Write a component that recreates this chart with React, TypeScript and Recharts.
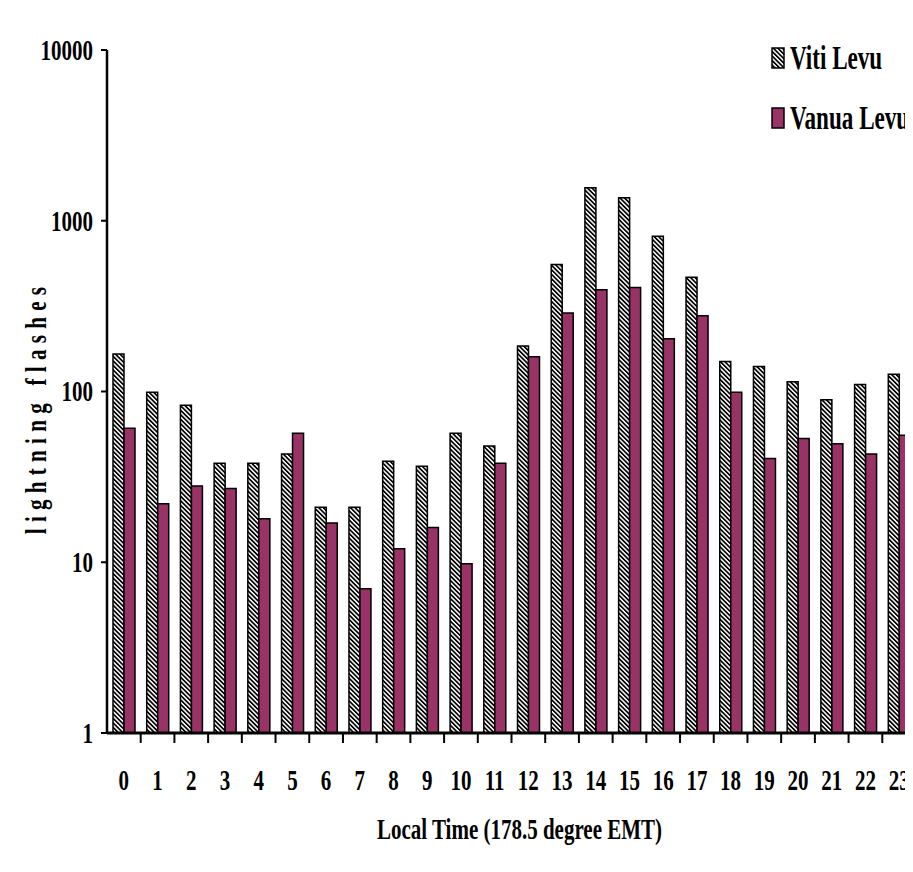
import { BarChart, Bar, XAxis, YAxis, Legend } from 'recharts';

// hourly lightning flash counts (log scale)
const hours = ['0', '1', '2', '3', '4', '5', '6', '7', '8', '9', '10', '11', '12', '13', '14', '15', '16', '17', '18', '19', '20', '21', '22', '23'];
const vitiLevu = [166, 99, 83, 38, 38, 43, 21, 21, 39, 36.5, 57, 48, 185, 554, 1560, 1364, 811, 467, 150, 140, 114, 89.5, 110, 126];
const vanuaLevu = [61, 22, 28, 27, 18, 57, 17, 7, 12, 16, 9.8, 38, 160, 288, 394, 407, 204, 278, 99, 40.5, 53, 49.5, 43, 55.5];
const yTicks = [1, 10, 100, 1000, 10000];
const seriesOrder = ['viti', 'vanua'];

const data = hours.map((h, i) => ({ hour: h, viti: vitiLevu[i], vanua: vanuaLevu[i] }));

const FONT = '"Liberation Serif", "Times New Roman", serif';
const SX = 0.7;
const PLUM = '#993366';

// the original plot runs slightly past the right edge, so the chart is clipped
const VIEW_W = 905;
const CHART_W = 908;
const CHART_H = 850;
const Y_AXIS_W = 99;
const BAND = (CHART_W - Y_AXIS_W) / hours.length;

const HatchPattern = ({ id }: { id: string }) => (
  <pattern id={id} patternUnits="userSpaceOnUse" width={3.2} height={3.2} patternTransform="rotate(-45)">
    <rect width={3.2} height={3.2} fill="#fff" />
    <rect width={1.7} height={3.2} fill="#000" />
  </pattern>
);

const CondText = ({ x, y, size, anchor = 'middle', rotate = 0, weight = 'bold', spacing = 0, children }: any) => (
  <text
    transform={`translate(${x},${y}) rotate(${rotate}) scale(${SX},1)`}
    textAnchor={anchor}
    dominantBaseline="central"
    fontFamily={FONT}
    fontWeight={weight}
    fontSize={size}
    letterSpacing={spacing}
    fill="#000"
  >
    {children}
  </text>
);

// label plus a downward tick on the right edge of each category band
const XTick = (props: any) => {
  const { x, y, payload } = props;
  const bx = x + BAND / 2;
  return (
    <g>
      <line x1={bx} x2={bx} y1={y} y2={y + 10} stroke="#000" strokeWidth={2} />
      <CondText x={x} y={y + 47} size={30}>
        {payload.value}
      </CondText>
    </g>
  );
};

const YTick = (props: any) => {
  const { x, y, payload } = props;
  return (
    <CondText x={x} y={y} size={30} anchor="end">
      {payload.value}
    </CondText>
  );
};

const XTitle = (props: any) => {
  const { x, y, width } = props.viewBox;
  return (
    <CondText x={x + width / 2 + 8} y={y + 96} size={30}>
      Local Time (178.5 degree EMT)
    </CondText>
  );
};

const YTitle = (props: any) => {
  const { x, y, height } = props.viewBox;
  return (
    <CondText x={x + 28} y={y + height / 2 + 16} size={30} rotate={-90} spacing={9}>
      lightning flashes
    </CondText>
  );
};

const renderLegend = (props: any) => {
  const items = [...props.payload].sort(
    (a: any, b: any) => seriesOrder.indexOf(a.dataKey) - seriesOrder.indexOf(b.dataKey)
  );
  return (
    <div style={{ fontFamily: FONT, fontWeight: 'bold' }}>
      {items.map((entry: any) => (
        <div key={entry.value} style={{ display: 'flex', alignItems: 'center', height: 60 }}>
          <svg width={14} height={22} style={{ flex: 'none' }}>
            <defs>
              <HatchPattern id="legHatch" />
            </defs>
            <rect
              x={1}
              y={1}
              width={12}
              height={20}
              fill={entry.dataKey === 'viti' ? 'url(#legHatch)' : PLUM}
              stroke="#000"
              strokeWidth={1.5}
            />
          </svg>
          <span
            style={{
              fontSize: 33,
              display: 'inline-block',
              whiteSpace: 'nowrap',
              marginLeft: 5,
              transform: `scaleX(${SX})`,
              transformOrigin: 'left center',
            }}
          >
            {entry.value}
          </span>
        </div>
      ))}
    </div>
  );
};

export default function App() {
  return (
    <div style={{ width: VIEW_W, height: CHART_H, overflow: 'hidden' }}>
      <BarChart
        width={CHART_W}
        height={CHART_H}
        data={data}
        margin={{ top: 42, right: 0, left: 0, bottom: 25 }}
        barSize={11}
        barGap={0}
      >
        <defs>
          <HatchPattern id="hatch" />
        </defs>
        <XAxis
          dataKey="hour"
          interval={0}
          tickLine={false}
          tickSize={0}
          tickMargin={0}
          axisLine={{ stroke: '#000', strokeWidth: 3 }}
          tick={<XTick />}
          height={100}
          label={{ value: 'Local Time (178.5 degree EMT)', content: <XTitle /> }}
        />
        <YAxis
          scale="log"
          type="number"
          domain={[1, 10000]}
          ticks={yTicks}
          allowDataOverflow
          width={Y_AXIS_W}
          tickSize={6}
          tickMargin={8}
          tickLine={{ stroke: '#000', strokeWidth: 2 }}
          axisLine={{ stroke: '#000', strokeWidth: 2.5 }}
          tick={<YTick />}
          label={{ value: 'lightning flashes', content: <YTitle /> }}
        />
        <Legend
          layout="vertical"
          align="center"
          verticalAlign="middle"
          wrapperStyle={{ top: 20, left: 763, width: 140 }}
          content={renderLegend}
        />
        <Bar dataKey="viti" name="Viti Levu" fill="url(#hatch)" stroke="#000" strokeWidth={1.5} isAnimationActive={false} />
        <Bar dataKey="vanua" name="Vanua Levu" fill={PLUM} stroke="#000" strokeWidth={1.5} isAnimationActive={false} />
      </BarChart>
    </div>
  );
}
